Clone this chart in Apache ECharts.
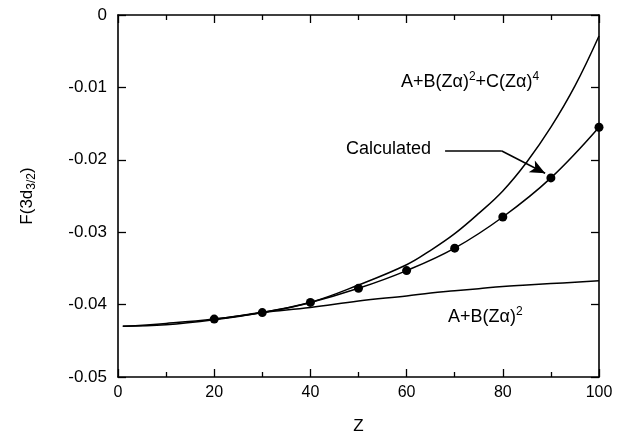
<!DOCTYPE html>
<html>
<head>
<meta charset="utf-8">
<script src="https://cdn.jsdelivr.net/npm/echarts@6/dist/echarts.min.js"></script>
<style>html,body{margin:0;padding:0;background:#fff}#c{width:629px;height:442px}</style>
</head>
<body>
<div id="c"></div>
<script>
// Z values for the analytic curves
var zCurve = [1, 10, 20, 30, 40, 50, 60, 65, 70, 75, 80, 85, 90, 95, 100];
// A+B(Zα)^2
var quadFit = [-0.0430, -0.0426, -0.0420, -0.0411, -0.0404, -0.0395, -0.0388, -0.0384, -0.0381, -0.0378, -0.0375, -0.0373, -0.0371, -0.0369, -0.0367];
// A+B(Zα)^2+C(Zα)^4
var quarticFit = [-0.0430, -0.0428, -0.0421, -0.0411, -0.0397, -0.0373, -0.0345, -0.0325, -0.0302, -0.0274, -0.0243, -0.0203, -0.0155, -0.0098, -0.0029];
// Calculated points
var zCalc = [20, 30, 40, 50, 60, 70, 80, 90, 100];
var calcVals = [-0.0420, -0.0411, -0.0397, -0.03775, -0.0353, -0.0322, -0.0279, -0.0225, -0.0155];
// Axis tick labels
var xTicks = [0, 20, 40, 60, 80, 100];
var yTicks = [0, -0.01, -0.02, -0.03, -0.04, -0.05];
// Arrow path (data coordinates) for the "Calculated" annotation
var arrowPts = [[68, -0.01878], [79.8, -0.01878], [88.8, -0.02186]];

function pairs(xs, ys) { return xs.map(function (x, i) { return [x, ys[i]]; }); }

var FONT = 'Liberation Sans, Arial, sans-serif';
var chart = echarts.init(document.getElementById('c'), null, {renderer: 'canvas'});
var axisLine = {show: true, onZero: false, lineStyle: {color: '#000', width: 1.6}};
var tick = {show: true, inside: true, length: 8, lineStyle: {color: '#000', width: 1.3}};
var minor = {show: true, splitNumber: 2, length: 5, lineStyle: {color: '#000', width: 1.3}};
var lineStyle = {color: '#000', width: 1.5};
var richAnn = {
  b: {fontFamily: FONT, fontSize: 18, fill: '#000', lineHeight: 22},
  s: {fontFamily: FONT, fontSize: 12, fill: '#000', verticalAlign: 'top', lineHeight: 22, padding: [0, 0, 9, 0]}
};

chart.setOption({
  animation: false,
  backgroundColor: '#fff',
  grid: {left: 118, right: 30, top: 15, bottom: 65, containLabel: false},
  xAxis: [{
    type: 'value', min: 0, max: 100, interval: 20,
    name: 'Z', nameLocation: 'middle', nameGap: 41,
    nameTextStyle: {fontFamily: FONT, fontSize: 17, color: '#000'},
    axisLine: axisLine, axisTick: tick, minorTick: minor,
    axisLabel: {fontFamily: FONT, fontSize: 16, color: '#000', margin: 8,
      formatter: function (v) { return xTicks.indexOf(v) >= 0 ? String(v) : ''; }},
    splitLine: {show: false}
  }, {
    type: 'value', min: 0, max: 100, interval: 20, position: 'top',
    axisLine: axisLine, axisTick: tick, minorTick: minor,
    axisLabel: {show: false}, splitLine: {show: false}
  }],
  yAxis: [{
    type: 'value', min: -0.05, max: 0, interval: 0.01,
    name: '{b|F(3d}{s|3/2}{b|)}', nameLocation: 'middle', nameGap: 80,
    nameTextStyle: {fontFamily: FONT, color: '#000',
      rich: {b: {fontFamily: FONT, fontSize: 17, color: '#000'},
             s: {fontFamily: FONT, fontSize: 12, color: '#000', verticalAlign: 'bottom', padding: [9, 0, 0, 0]}}},
    axisLine: axisLine, axisTick: tick,
    axisLabel: {fontFamily: FONT, fontSize: 17, color: '#000', margin: 11,
      formatter: function (v) {
        var r = Math.round(v * 100) / 100;
        for (var i = 0; i < yTicks.length; i++) if (Math.abs(yTicks[i] - r) < 1e-9) return r === 0 ? '0' : r.toFixed(2);
        return '';
      }},
    splitLine: {show: false}
  }, {
    type: 'value', min: -0.05, max: 0, interval: 0.01, position: 'right',
    axisLine: axisLine, axisTick: tick,
    axisLabel: {show: false}, splitLine: {show: false}
  }],
  series: [{
    name: 'A+B(Zα)^2+C(Zα)^4', type: 'line', smooth: 0.4, showSymbol: false,
    data: pairs(zCurve, quarticFit), lineStyle: lineStyle, silent: true
  }, {
    name: 'A+B(Zα)^2', type: 'line', smooth: 0.4, showSymbol: false,
    data: pairs(zCurve, quadFit), lineStyle: lineStyle, silent: true
  }, {
    name: 'Calculated', type: 'line', smooth: 0.4, symbol: 'circle', symbolSize: 9,
    data: pairs(zCalc, calcVals), lineStyle: lineStyle, itemStyle: {color: '#000'}, silent: true,
    markLine: {
      silent: true, animation: false, label: {show: false},
      lineStyle: {color: '#000', width: 1.5, type: 'solid'},
      symbol: ['none', 'arrow'], symbolSize: [10, 15],
      data: [
        [{coord: arrowPts[0], symbol: 'none'}, {coord: arrowPts[1], symbol: 'none'}],
        [{coord: arrowPts[1]}, {coord: arrowPts[2]}]
      ]
    }
  }],
  graphic: [{
    type: 'text', left: 401, top: 71,
    style: {text: '{b|A+B(Zα)}{s|2}{b|+C(Zα)}{s|4}', rich: richAnn}
  }, {
    type: 'text', left: 346, top: 140,
    style: {text: 'Calculated', fontFamily: FONT, fontSize: 18, fill: '#000'}
  }, {
    type: 'text', left: 448, top: 306,
    style: {text: '{b|A+B(Zα)}{s|2}', rich: richAnn}
  }]
});
</script>
</body>
</html>
